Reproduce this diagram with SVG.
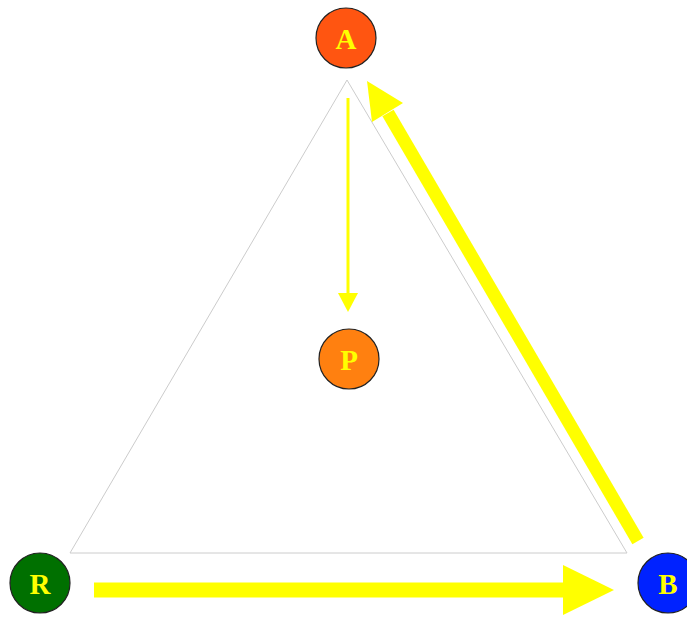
<svg xmlns="http://www.w3.org/2000/svg" width="687" height="617" viewBox="0 0 687 617">
<style>
.node{stroke:#222;stroke-width:1.2}
.lbl{font-family:"Liberation Serif","DejaVu Serif",serif;font-weight:bold;font-size:29px;fill:#ffff00;text-anchor:middle;dominant-baseline:central}
.tri{fill:none;stroke:#cccccc;stroke-width:1}
.arr{fill:#ffff00}
</style>
<rect width="687" height="617" fill="#ffffff"/>
<polygon class="tri" points="347,80 70,553 627,553"/>
<g id="connectors">
<line x1="348" y1="98" x2="348" y2="296" stroke="#ffff00" stroke-width="3"/>
<polygon class="arr" points="338,293 358,293 348,312"/>
<line x1="94" y1="590" x2="566" y2="590" stroke="#ffff00" stroke-width="15"/>
<polygon class="arr" points="563,565 614,590 563,615"/>
<line x1="638" y1="541" x2="388" y2="113" stroke="#ffff00" stroke-width="13"/>
<polygon class="arr" points="367,81 403,103 372,122"/>
</g>
<g id="A"><circle class="node" cx="346" cy="38" r="30" fill="#ff5511"/><text class="lbl" x="346" y="39">A</text></g>
<g id="P"><circle class="node" cx="349" cy="359" r="30" fill="#ff8010"/><text class="lbl" x="349" y="360">P</text></g>
<g id="R"><circle class="node" cx="40" cy="583" r="30" fill="#007000"/><text class="lbl" x="40" y="584">R</text></g>
<g id="B"><circle class="node" cx="668" cy="583" r="30" fill="#0022ff"/><text class="lbl" x="668" y="584">B</text></g>
</svg>
